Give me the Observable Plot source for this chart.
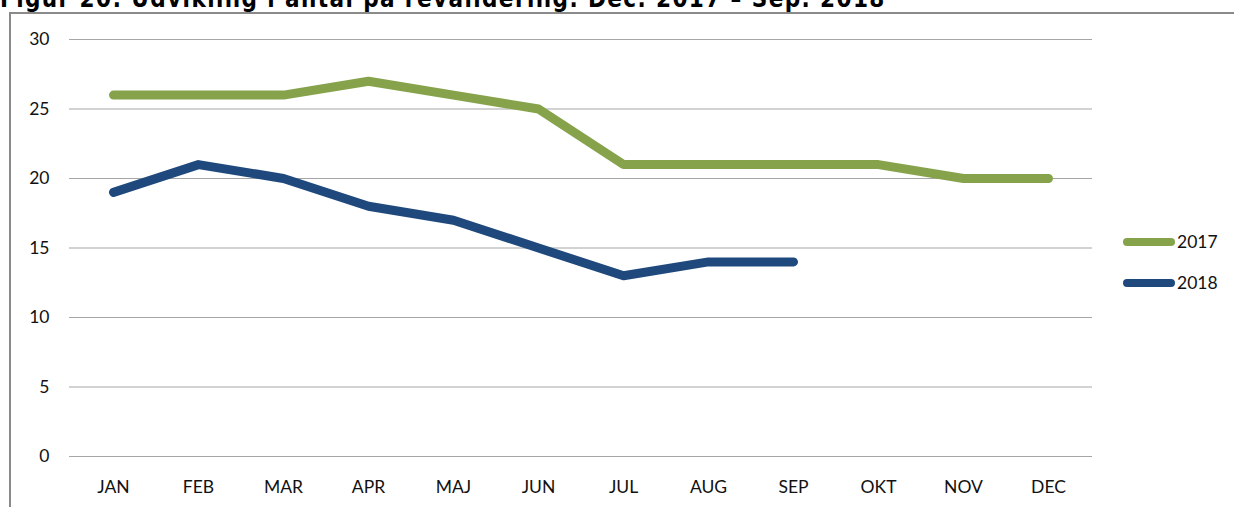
<!DOCTYPE html>
<html>
<head>
<meta charset="utf-8">
<script src="https://cdn.jsdelivr.net/npm/d3@7"></script>
<script src="https://cdn.jsdelivr.net/npm/@observablehq/plot@0.6"></script>
<style>
  html, body { margin: 0; padding: 0; background: #fff; }
  body { width: 1234px; height: 507px; position: relative; overflow: hidden; font-family: Lato, "Open Sans", sans-serif; }
  #title { position: absolute; left: 0; top: -15px; font-family: "DejaVu Sans Condensed", "DejaVu Sans", sans-serif; font-weight: bold; font-size: 24px; color: #000; white-space: nowrap; letter-spacing: 1.4px; }
  #frame { position: absolute; left: 9px; top: 12px; width: 1240px; height: 520px; border-left: 2px solid #8a8a8a; border-top: 2px solid #8a8a8a; box-sizing: border-box; }
  #chart { position: absolute; left: 0; top: 0; }
  .leg { position: absolute; left: 1123px; font-size: 17.5px; color: #111; display: flex; align-items: center; }
  .leg .sw { width: 52px; height: 8px; border-radius: 4px; margin-right: 2px; }
</style>
</head>
<body>
<div id="title">Figur 20: Udvikling i antal på revalidering. Dec. 2017 – Sep. 2018</div>
<div id="frame"></div>
<div id="chart"></div>
<div class="leg" style="top:231px"><div class="sw" style="background:#86a34b"></div>2017</div>
<div class="leg" style="top:272px"><div class="sw" style="background:#1f497d"></div>2018</div>
<script>
const months = ["JAN","FEB","MAR","APR","MAJ","JUN","JUL","AUG","SEP","OKT","NOV","DEC"];
const values2017 = [26,26,26,27,26,25,21,21,21,21,20,20];
const values2018 = [19,21,20,18,17,15,13,14,14];
const yTicks = [0,5,10,15,20,25,30];
const seriesColors = {"2017": "#86a34b", "2018": "#1f497d"};

const d17 = values2017.map((v,i) => ({month: months[i], value: v}));
const d18 = values2018.map((v,i) => ({month: months[i], value: v}));

const chart = Plot.plot({
  width: 1234,
  height: 507,
  marginLeft: 69,
  marginRight: 142,
  marginTop: 39,
  marginBottom: 51,
  style: {fontFamily: "Lato, 'Open Sans', sans-serif", fontSize: "17px", color: "#111", background: "transparent"},
  x: {type: "point", domain: months, padding: 0.5, label: null},
  y: {domain: [0, 30], label: null},
  marks: [
    Plot.ruleY(yTicks, {stroke: "#a6a6a6", strokeWidth: 1.2}),
    Plot.ruleX([0], {x: () => null, frameAnchor: "left", stroke: "#a6a6a6", strokeWidth: 1.2}),
    Plot.axisY({ticks: yTicks, tickSize: 0, tickPadding: 20, fontSize: 17.5}),
    Plot.axisX({tickSize: 0, tickPadding: 24, fontSize: 17.5}),
    Plot.lineY(d17, {x: "month", y: "value", stroke: seriesColors["2017"], strokeWidth: 9, strokeLinecap: "round", strokeLinejoin: "round", curve: "linear"}),
    Plot.lineY(d18, {x: "month", y: "value", stroke: seriesColors["2018"], strokeWidth: 9, strokeLinecap: "round", strokeLinejoin: "round", curve: "linear"})
  ]
});
document.getElementById("chart").appendChild(chart);
</script>
</body>
</html>
